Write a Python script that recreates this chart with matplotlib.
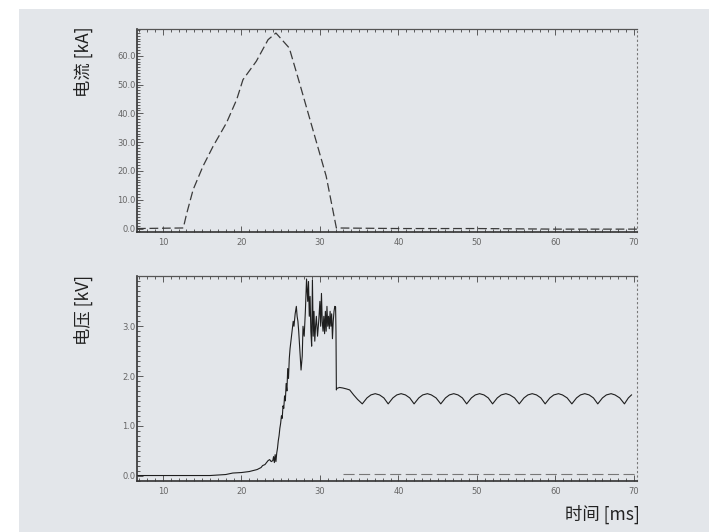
import matplotlib
matplotlib.use("Agg")
import matplotlib.pyplot as plt
from matplotlib.ticker import MultipleLocator, FormatStrFormatter
from matplotlib.patches import Rectangle

# ---------------- data ----------------
current_t = [6.7, 12.6, 13.0, 13.85, 15.1, 16.4, 18.1, 19.4, 20.2, 21.9, 23.4, 24.4,
             26.1, 27.4, 29.1, 30.8, 32.1, 40.0, 50.0, 60.0, 70.4]
current_kA = [0.0, 0.2, 4.9, 13.5, 21.6, 28.6, 36.7, 44.8, 51.7, 58.1, 65.6, 67.9,
              62.7, 50.6, 34.4, 18.2, 0.2, 0.0, 0.0, -0.2, -0.2]

volt_t = [6.7, 12.0, 16.0, 18.0, 18.9, 20.0, 21.0, 21.5, 22.0, 22.5, 22.7, 23.0, 23.2,
          23.4, 23.6, 23.8, 24.0, 24.1, 24.2, 24.3, 24.4, 24.5, 24.6, 24.7, 24.8, 24.9,
          25.0, 25.1, 25.2, 25.3, 25.4, 25.5, 25.6, 25.7, 25.8, 25.9, 26.0, 26.1, 26.2,
          26.35, 26.5, 26.6, 26.7, 26.85, 27.0, 27.1, 27.2, 27.3, 27.45, 27.6, 27.75,
          27.85, 28.0, 28.15, 28.3, 28.45, 28.55, 28.65, 28.75, 28.85, 28.95, 29.05,
          29.15, 29.25, 29.35, 29.45, 29.55, 29.7, 29.85, 30.0, 30.1, 30.2, 30.3, 30.4,
          30.5, 30.6, 30.7, 30.8, 30.9, 31.0, 31.1, 31.2, 31.3, 31.4, 31.5, 31.6, 31.7,
          31.8, 31.9, 32.0, 32.05, 32.1, 32.15, 32.5, 32.9, 33.4, 33.8, 34.3, 34.8,
          35.4, 36.0, 36.5, 37.05, 37.6, 38.15,
          38.7, 39.3, 39.8, 40.35, 40.9, 41.45,
          42.0, 42.6, 43.1, 43.7, 44.2, 44.8,
          45.4, 46.0, 46.5, 47.05, 47.6, 48.15,
          48.7, 49.3, 49.8, 50.35, 50.9, 51.45,
          52.0, 52.6, 53.1, 53.7, 54.2, 54.8,
          55.4, 56.0, 56.5, 57.05, 57.6, 58.15,
          58.7, 59.3, 59.8, 60.4, 60.9, 61.5,
          62.1, 62.7, 63.2, 63.75, 64.3, 64.85,
          65.4, 66.0, 66.5, 67.1, 67.6, 68.2,
          68.8, 69.3, 69.7]
volt_kV = [0.0, 0.0, 0.0, 0.02, 0.05, 0.06, 0.08, 0.1, 0.12, 0.16, 0.2, 0.22, 0.26,
           0.3, 0.32, 0.28, 0.3, 0.38, 0.26, 0.42, 0.28, 0.45, 0.55, 0.7, 0.8, 0.95,
           1.05, 1.2, 1.15, 1.4, 1.35, 1.6, 1.5, 1.85, 1.7, 2.15, 1.95, 2.35, 2.55,
           2.75, 2.95, 3.1, 3.0, 3.25, 3.4, 3.2, 3.1, 2.9, 2.5, 2.12, 2.4, 3.0,
           2.8, 3.3, 3.95, 3.5, 3.9, 3.2, 3.6, 2.9, 2.6, 3.93, 2.8, 3.3, 2.7, 3.0,
           3.2, 2.8, 3.1, 3.5, 3.0, 3.66, 3.1, 2.9, 3.2, 2.85, 3.3, 2.9, 3.4, 3.0, 3.2,
           2.95, 3.3, 3.0, 3.25, 2.75, 3.1, 3.3, 3.4, 3.39, 2.9, 1.72, 1.75, 1.77, 1.76,
           1.74, 1.72, 1.62, 1.53,
           1.44, 1.56, 1.62, 1.645, 1.62, 1.56,
           1.44, 1.56, 1.62, 1.645, 1.62, 1.56,
           1.44, 1.56, 1.62, 1.645, 1.62, 1.56,
           1.44, 1.56, 1.62, 1.645, 1.62, 1.56,
           1.44, 1.56, 1.62, 1.645, 1.62, 1.56,
           1.44, 1.56, 1.62, 1.645, 1.62, 1.56,
           1.44, 1.56, 1.62, 1.645, 1.62, 1.56,
           1.44, 1.56, 1.62, 1.645, 1.62, 1.56,
           1.44, 1.56, 1.62, 1.645, 1.62, 1.56,
           1.44, 1.56, 1.62, 1.645, 1.62, 1.56,
           1.44, 1.56, 1.62]

base_t = [33.0, 70.4]
base_kV = [0.03, 0.03]

x_ticks = [10, 20, 30, 40, 50, 60, 70]
top_yticks = [0, 10, 20, 30, 40, 50, 60]
bot_yticks = [0, 1, 2, 3]

label_top = "电流 [kA]"
label_bot = "电压 [kV]"
label_x = "时间 [ms]"

# ---------------- figure ----------------
BG = "#e3e6ea"
fig = plt.figure(figsize=(7.09, 5.32), dpi=100, facecolor="white")
fig.patches.append(Rectangle((19 / 709, 0), 1 - 19 / 709, 1 - 9 / 532,
                             transform=fig.transFigure, facecolor=BG,
                             edgecolor="none", zorder=-10))

cjk = ["Noto Sans CJK SC", "DejaVu Sans"]
ax1 = fig.add_axes([137 / 709, 300 / 532, 500 / 709, 203 / 532])
ax2 = fig.add_axes([137 / 709, 51 / 532, 500 / 709, 205 / 532])

def style(ax, yticks, ymin, ymax, yminor):
    ax.set_facecolor(BG)
    ax.set_xlim(6.7, 70.4)
    ax.set_ylim(ymin, ymax)
    ax.set_xticks(x_ticks)
    ax.set_yticks(yticks)
    ax.xaxis.set_minor_locator(MultipleLocator(1))
    ax.yaxis.set_minor_locator(MultipleLocator(yminor))
    ax.yaxis.set_major_formatter(FormatStrFormatter("%.1f"))
    ax.tick_params(which="both", direction="in", top=True, right=False,
                   colors="#444444", width=0.6)
    ax.tick_params(which="major", length=4, labelsize=6,
                   labelcolor="#666666", pad=4)
    ax.tick_params(which="minor", length=2)
    ax.tick_params(axis="y", which="major", pad=1)
    for s in ["left", "bottom"]:
        ax.spines[s].set_color("#333333")
        ax.spines[s].set_linewidth(1.2)
    ax.spines["top"].set_color("#555555")
    ax.spines["top"].set_linewidth(0.9)
    ax.spines["right"].set_color("#777777")
    ax.spines["right"].set_linestyle((0, (1, 3)))
    ax.spines["right"].set_linewidth(0.8)

style(ax1, top_yticks, -1.2, 69.3, 1)
style(ax2, bot_yticks, -0.11, 4.01, 0.1)

ax1.plot(current_t, current_kA, color="#3a3a3a", lw=0.9,
         linestyle=(0, (7, 3)))
ax2.plot(base_t, base_kV, color="#777777", lw=0.8, linestyle=(0, (10, 4)))
ax2.plot(volt_t, volt_kV, color="#1e1e1e", lw=0.8)

ax1.text(-0.108, 0.837, label_top, transform=ax1.transAxes, rotation=90,
         ha="center", va="center", family=cjk, fontsize=12.5, color="#222222")
ax2.text(-0.108, 0.834, label_bot, transform=ax2.transAxes, rotation=90,
         ha="center", va="center", family=cjk, fontsize=12.5, color="#222222")

fig.text(640 / 709, 1 - 514 / 532, label_x, family=cjk, fontsize=12.5,
         color="#222222", ha="right", va="center")

fig.savefig("out.png", dpi=100, facecolor=fig.get_facecolor())
